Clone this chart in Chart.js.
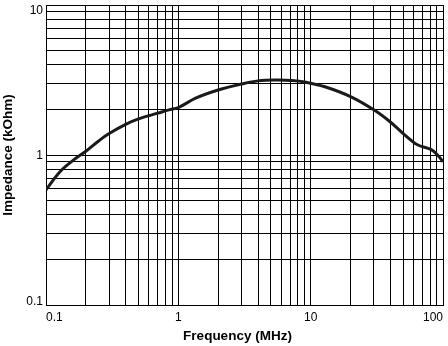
<!DOCTYPE html>
<html>
<head>
<meta charset="utf-8">
<script src="https://cdn.jsdelivr.net/npm/chart.js@4.4.1/dist/chart.umd.min.js"></script>
<style>
  html, body { margin: 0; padding: 0; background: #fff; }
  #wrap { width: 448px; height: 346px; position: relative; }
</style>
</head>
<body>
<div id="wrap"><canvas id="chart" width="448" height="346"></canvas></div>
<script>
// Impedance vs. frequency of the ferrite part
const freqMHz = [0.1, 0.127, 0.16, 0.2, 0.25, 0.3, 0.4, 0.5, 0.7, 0.85, 1.0, 1.35, 2.0, 3.0, 4.0, 5.5, 7.2, 9.0, 12.8, 20, 30, 40, 50, 64, 81, 91, 100];
const impedanceKOhm = [0.585, 0.77, 0.92, 1.06, 1.24, 1.39, 1.6, 1.74, 1.9, 2.0, 2.07, 2.39, 2.71, 2.97, 3.12, 3.16, 3.14, 3.07, 2.85, 2.45, 2.0, 1.66, 1.39, 1.17, 1.09, 1.0, 0.9];

// Decade grids: lines at 1..9 times each power of ten
const gridSteps = [1, 2, 3, 4, 5, 6, 7, 8, 9];
const xDecades = [0.1, 1, 10];
const xEnd = 100;
const yDecades = [0.1, 1];
const yEnd = 10;

// Labelled ticks
const xLabelValues = [0.1, 1, 10, 100];
const xTickLabels = ['0.1', '1', '10', '100'];
const yLabelValues = [0.1, 1, 10];
const yTickLabels = ['0.1', '1', '10'];

const xTitle = 'Frequency (MHz)';
const yTitle = 'Impedance (kOhm)';

function gridValues(decades, end) {
  const vals = [];
  decades.forEach(d => gridSteps.forEach(s => vals.push(+(d * s).toPrecision(6))));
  vals.push(end);
  return vals;
}
const xGrid = gridValues(xDecades, xEnd);
const yGrid = gridValues(yDecades, yEnd);

function labelFor(values, labels, v) {
  const i = values.findIndex(x => Math.abs(x - v) / x < 1e-6);
  return i >= 0 ? labels[i] : '';
}

const FONT = "'Liberation Sans', Arial, Helvetica, sans-serif";

// Y tick labels kept inside the plot's vertical extent, plus the axis titles
const textPlugin = {
  id: 'axisText',
  afterDraw(chart) {
    const ctx = chart.ctx;
    const area = chart.chartArea;
    const ys = chart.scales.y;
    ctx.save();
    ctx.fillStyle = '#000';
    ctx.font = '12px ' + FONT;
    ctx.textAlign = 'right';
    ctx.textBaseline = 'alphabetic';
    yLabelValues.forEach((v, i) => {
      const p = ys.getPixelForValue(v);
      const base = Math.max(area.top + 8.8, Math.min(area.bottom, p + 4.3));
      ctx.fillText(yTickLabels[i], area.left - 3, base);
    });

    ctx.font = 'bold 13.5px ' + FONT;
    ctx.textAlign = 'center';
    ctx.textBaseline = 'middle';
    ctx.fillText(xTitle, 237.5, 336);

    ctx.translate(8, (area.top + area.bottom) / 2);
    ctx.rotate(-Math.PI / 2);
    ctx.fillText(yTitle, 0, 0);
    ctx.restore();
  }
};

new Chart(document.getElementById('chart'), {
  type: 'line',
  data: {
    datasets: [{
      data: freqMHz.map((f, i) => ({ x: f, y: impedanceKOhm[i] })),
      borderColor: '#1a1a1a',
      borderWidth: 3,
      pointRadius: 0,
      fill: false,
      tension: 0.35
    }]
  },
  options: {
    responsive: false,
    animation: false,
    devicePixelRatio: 1,
    layout: { padding: { top: 5, right: 2, left: 0, bottom: 0 } },
    plugins: { legend: { display: false }, tooltip: { enabled: false } },
    scales: {
      x: {
        type: 'logarithmic',
        min: 0.1,
        max: 100,
        afterBuildTicks(scale) { scale.ticks = xGrid.map(v => ({ value: v })); },
        afterFit(scale) { scale.height = 41; },
        grid: { color: '#000', lineWidth: 1, drawTicks: false },
        border: { color: '#000', width: 1 },
        ticks: {
          autoSkip: false,
          maxRotation: 0,
          align: 'inner',
          padding: 5,
          color: '#000',
          font: { family: FONT, size: 12 },
          callback: v => labelFor(xLabelValues, xTickLabels, v)
        }
      },
      y: {
        type: 'logarithmic',
        min: 0.1,
        max: 10,
        afterBuildTicks(scale) { scale.ticks = yGrid.map(v => ({ value: v })); },
        afterFit(scale) { scale.width = 46; },
        grid: { color: '#000', lineWidth: 1, drawTicks: false },
        border: { color: '#000', width: 1 },
        ticks: { display: false }
      }
    }
  },
  plugins: [textPlugin]
});
</script>
</body>
</html>
